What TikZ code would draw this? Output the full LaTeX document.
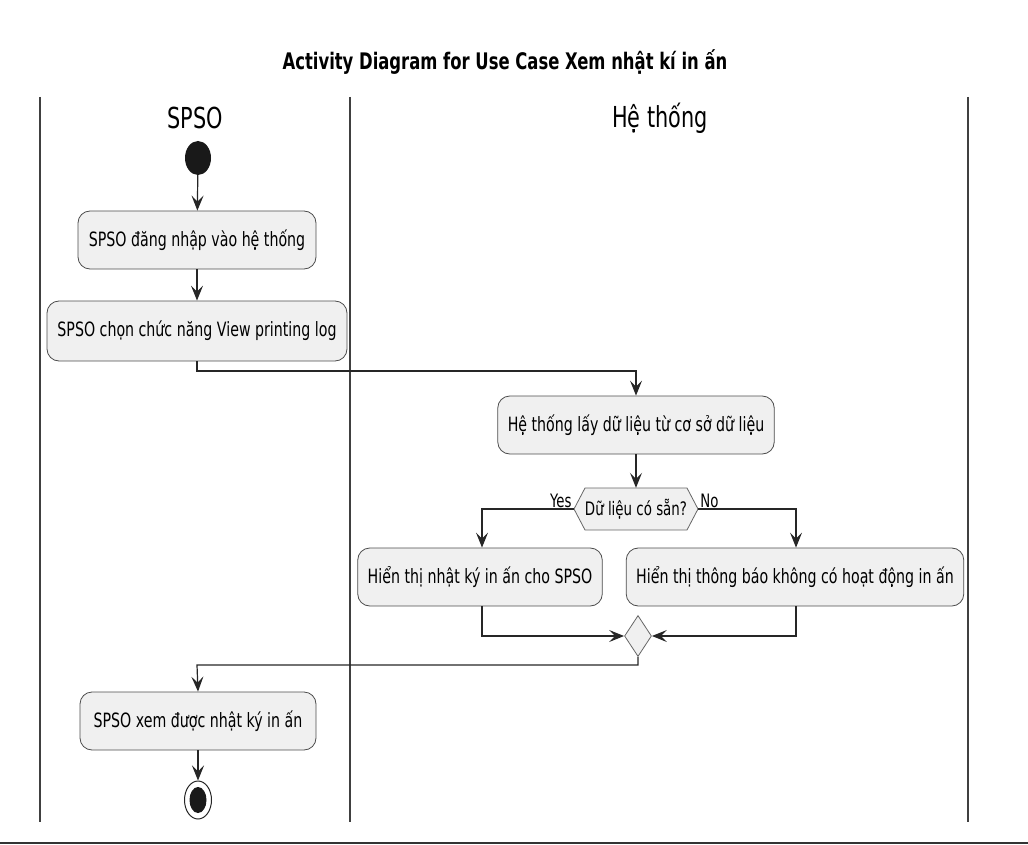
\documentclass[tikz,border=0pt]{standalone}
\usepackage{fontspec}
\setmainfont{DejaVu Sans}[FakeStretch=0.72]
\usetikzlibrary{arrows.meta,shapes.geometric}
\begin{document}
\begin{tikzpicture}[x=1pt,y=-1pt,
  act/.style={draw=black!70,fill=black!6,rounded corners=12pt,line width=0.8pt,minimum height=58pt,inner xsep=10pt,font=\fontsize{19.7}{22}\selectfont,anchor=center},
  conn/.style={draw=black!85,line width=1.2pt},
  arr/.style={conn,-{Stealth[length=15pt,width=12pt,inset=6pt]}},
  lane/.style={draw=black!75,line width=1.5pt},
  lbl/.style={font=\fontsize{18.5}{20}\selectfont,inner sep=1pt}]
\useasboundingbox (0,0) rectangle (1028,845);
\node[font=\bfseries\fontsize{22.8}{26}\selectfont] (title) at (505,62) {Activity Diagram for Use Case Xem nhật kí in ấn};
\draw[lane] (40,97) -- (40,822);
\draw[lane] (350,97) -- (350,822);
\draw[lane] (968,97) -- (968,822);
\draw[black!80,line width=2pt] (0,843) -- (1028,843);
\node[font=\fontsize{28.9}{32}\selectfont] (h1) at (195,118) {SPSO};
\node[font=\fontsize{28.9}{32}\selectfont] (h2) at (660,118) {Hệ thống};
\node[ellipse,fill=black!90,minimum width=26pt,minimum height=34pt,inner sep=0pt] (start) at (198,158) {};
\node[act,minimum width=238pt] (b1) at (197,240) {SPSO đăng nhập vào hệ thống};
\node[act,minimum width=300pt,minimum height=60pt] (b2) at (197,331) {SPSO chọn chức năng View printing log};
\node[act,minimum width=275pt] (b3) at (636,425) {Hệ thống lấy dữ liệu từ cơ sở dữ liệu};
\draw[draw=black!60,fill=black!6,line width=0.8pt] (574,509) -- (585,488) -- (687,488) -- (698,509) -- (687,530) -- (585,530) -- cycle;
\node[minimum width=124pt,minimum height=42pt,inner sep=0pt,font=\fontsize{18.6}{20}\selectfont] (dec) at (636,509) {Dữ liệu có sẵn?};
\node[act,minimum width=244pt] (b4) at (480,577) {Hiển thị nhật ký in ấn cho SPSO};
\node[act,minimum width=336pt] (b5) at (795,577) {Hiển thị thông báo không có hoạt động in ấn};
\node[diamond,draw=black!60,fill=black!6,line width=0.8pt,minimum width=27pt,minimum height=41pt,inner sep=0pt,aspect=0.66] (merge) at (638,636) {};
\node[act,minimum width=236pt] (b6) at (198,721) {SPSO xem được nhật ký in ấn};
\node[ellipse,draw=black!85,line width=1pt,minimum width=27pt,minimum height=38pt,inner sep=0pt] (end) at (198,800) {};
\node[ellipse,fill=black!90,minimum width=17pt,minimum height=26pt,inner sep=0pt] (endin) at (end.center) {};
\node[lbl,anchor=south east] (yes) at ([xshift=-1pt]dec.west) {Yes};
\node[lbl,anchor=south west] (no) at ([xshift=1pt]dec.east) {No};
\coordinate (c1) at (197,371);
\coordinate (c2) at (636,371);
\coordinate (c3) at (482,509);
\coordinate (c4) at (796,509);
\coordinate (c5) at (482,636);
\coordinate (c6) at (796,636);
\coordinate (c7) at (638,665);
\coordinate (c8) at (197,665);
\draw[arr] (start) -- (b1);
\draw[arr] (b1) -- (b2);
\draw[arr] (b2.south) -- (c1) -- (c2) -- (b3.north);
\draw[arr] (b3) -- (dec);
\draw[arr] (dec.west) -- (c3) -- (c3 |- b4.north);
\draw[arr] (dec.east) -- (c4) -- (c4 |- b5.north);
\draw[arr] (c5 |- b4.south) -- (c5) -- (merge.west);
\draw[arr] (c6 |- b5.south) -- (c6) -- (merge.east);
\draw[arr] (merge.south) -- (c7) -- (c8) -- (b6.north);
\draw[arr] (b6) -- (end);
\end{tikzpicture}
\end{document}
